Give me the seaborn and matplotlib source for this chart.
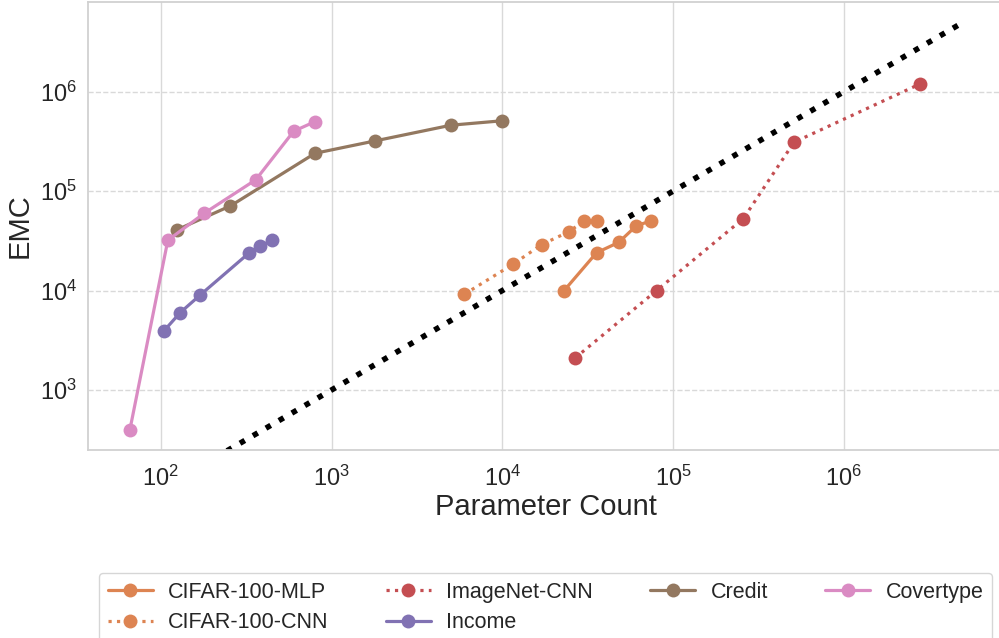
import numpy as np
import pandas as pd
import seaborn as sns
import matplotlib
from matplotlib import pyplot as plt
from matplotlib.lines import Line2D

sns.set_theme(style="whitegrid", palette="deep")
plt.rcParams["font.family"] = ["Liberation Sans", "DejaVu Sans"]

# values (parameter count, EMC)
mlp_params = [23000, 35600, 48000, 61000, 74000]
mlp_emc = [10000, 24000, 30500, 45000, 50000]

cnn_params = [6000, 11500, 17000, 24500, 30000, 35600]
cnn_emc = [9200, 18300, 29000, 39000, 50000, 50000]

imagenet_params = [26700, 80000, 258000, 510000, 2800000]
imagenet_emc = [2100, 10000, 53000, 310000, 1200000]

income_params = [104, 130, 170, 330, 380, 450]
income_emc = [3900, 6000, 9000, 24000, 28000, 32000]

credit_params = [125, 256, 800, 1800, 5000, 10000]
credit_emc = [41000, 71000, 240000, 320000, 460000, 510000]

covertype_params = [66, 110, 180, 360, 600, 800]
covertype_emc = [400, 32000, 60000, 130000, 400000, 500000]

# reference line EMC = parameter count
diag_x = [30, 4.7e6]

series = {
    "CIFAR-100-MLP": (mlp_params, mlp_emc),
    "CIFAR-100-CNN": (cnn_params, cnn_emc),
    "ImageNet-CNN": (imagenet_params, imagenet_emc),
    "Income": (income_params, income_emc),
    "Credit": (credit_params, credit_emc),
    "Covertype": (covertype_params, covertype_emc),
}

deep = sns.color_palette("deep")
colors = {
    "CIFAR-100-MLP": deep[1],
    "CIFAR-100-CNN": deep[1],
    "ImageNet-CNN": deep[3],
    "Income": deep[4],
    "Credit": deep[5],
    "Covertype": deep[6],
}
dotted = {"CIFAR-100-CNN", "ImageNet-CNN"}

df = pd.concat(
    [pd.DataFrame({"model": k, "params": v[0], "emc": v[1]}) for k, v in series.items()],
    ignore_index=True,
)

fig = plt.figure(figsize=(9.99, 6.38), dpi=100)
ax = fig.add_axes([88 / 999, 188 / 638, 916 / 999, 448 / 638])

ax.plot(diag_x, diag_x, color="black", lw=4, linestyle=(0, (1, 1.7)), zorder=1)

order = list(series.keys())
sns.lineplot(
    data=df,
    x="params",
    y="emc",
    hue="model",
    hue_order=order,
    style="model",
    style_order=order,
    palette=colors,
    dashes={k: ((1, 1.65) if k in dotted else "") for k in order},
    markers={k: "o" for k in order},
    estimator=None,
    sort=False,
    lw=2.3,
    markersize=10,
    markeredgewidth=0,
    ax=ax,
    zorder=3,
)

ax.set_xscale("log")
ax.set_yscale("log")
ax.set_xlim(10 ** 1.574, 10 ** 6.937)
ax.set_ylim(10 ** 2.396, 10 ** 6.902)

ax.grid(axis="x", color=".85", linestyle="-", lw=1)
ax.grid(axis="y", color=".85", linestyle="--", lw=1)
ax.grid(which="minor", visible=False)
ax.spines["right"].set_visible(False)
for s in ["left", "bottom", "top"]:
    ax.spines[s].set_color(".82")
    ax.spines[s].set_linewidth(1.3)

ax.tick_params(axis="both", labelsize=17, colors=".15")
ax.tick_params(axis="x", pad=5)
ax.tick_params(axis="y", pad=2)
ax.set_xlabel("Parameter Count", fontsize=21, color=".15", labelpad=2)
ax.set_ylabel("EMC", fontsize=21, color=".15", labelpad=4)

ax.get_legend().remove()
handles = [
    Line2D(
        [], [], color=colors[k], lw=2.3,
        linestyle=":" if k in dotted else "-",
        marker="o", markersize=10, markeredgewidth=0,
    )
    for k in order
]
fig.legend(
    handles,
    order,
    loc="upper left",
    bbox_to_anchor=(99 / 999, 0.0, 893 / 999, 65 / 638),
    mode="expand",
    borderaxespad=0,
    ncol=4,
    fontsize=15.5,
    handlelength=2.1,
    handletextpad=0.7,
    labelspacing=0.45,
    frameon=True,
)

fig.savefig("out.png", dpi=100)
